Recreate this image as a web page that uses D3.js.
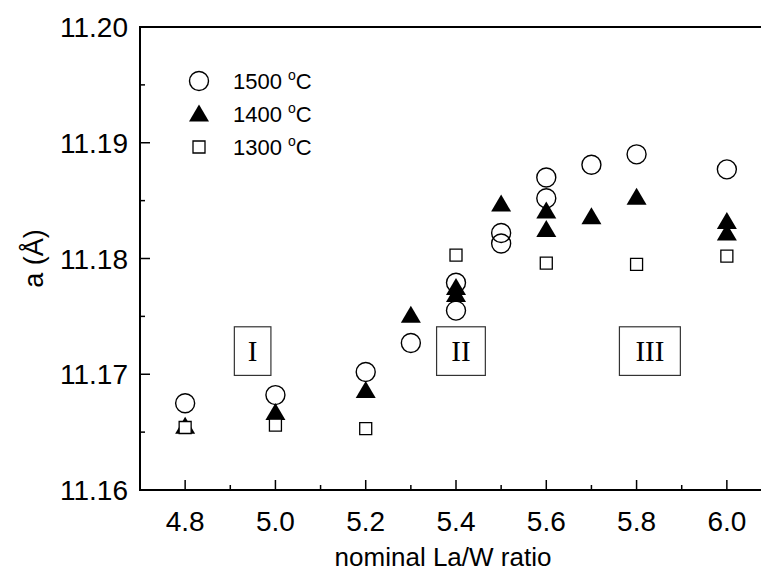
<!DOCTYPE html>
<html>
<head>
<meta charset="utf-8">
<script src="https://cdn.jsdelivr.net/npm/d3@7"></script>
<style>
  body { margin: 0; background: #fff; }
  svg { display: block; font-family: "Liberation Sans", Arial, sans-serif; }
</style>
</head>
<body>
<div id="chart"></div>
<script>
const ratio1500 = [4.8, 5.0, 5.2, 5.3, 5.4, 5.4, 5.5, 5.5, 5.6, 5.6, 5.7, 5.8, 6.0];
const a1500 = [11.1675, 11.1682, 11.1702, 11.1727, 11.1779, 11.1755, 11.1822, 11.1813, 11.1870, 11.1852, 11.1881, 11.1890, 11.1877];

const ratio1400 = [4.8, 5.0, 5.2, 5.3, 5.4, 5.4, 5.5, 5.6, 5.6, 5.7, 5.8, 6.0, 6.0];
const a1400 = [11.1655, 11.1667, 11.1686, 11.1751, 11.1775, 11.1769, 11.1847, 11.1841, 11.1825, 11.1836, 11.1853, 11.1832, 11.1822];

const ratio1300 = [4.8, 5.0, 5.2, 5.4, 5.6, 5.8, 6.0];
const a1300 = [11.1654, 11.1656, 11.1653, 11.1803, 11.1796, 11.1795, 11.1802];

const seriesNames = ["1500", "1400", "1300"];
const xTicks = [4.8, 5.0, 5.2, 5.4, 5.6, 5.8, 6.0];
const yTicks = [11.16, 11.17, 11.18, 11.19, 11.20];
const regionLabels = ["I", "II", "III"];
const regionX = [[4.909, 4.990], [5.357, 5.465], [5.762, 5.897]];
const regionY = [11.1699, 11.1741];

const width = 761, height = 575;
const margin = { top: 27, left: 140, bottom: 85 };

const svg = d3.select("#chart").append("svg")
    .attr("width", width)
    .attr("height", height);

const x = d3.scaleLinear().domain([4.7, 6.1]).range([margin.left, 772]);
const y = d3.scaleLinear().domain([11.16, 11.20]).range([height - margin.bottom, margin.top]);

const plotTop = y(11.20), plotBottom = y(11.16);

// frame (right side falls outside the picture)
svg.append("path")
    .attr("d", `M${x(6.1)},${plotTop}H${x(4.7)}V${plotBottom}H${x(6.1)}`)
    .attr("fill", "none")
    .attr("stroke", "#000")
    .attr("stroke-width", 2);

// bottom ticks (inward)
const xMinor = d3.range(4.9, 6.05, 0.2);
svg.append("g").selectAll("line")
    .data(xTicks)
    .enter().append("line")
    .attr("x1", d => x(d)).attr("x2", d => x(d))
    .attr("y1", plotBottom).attr("y2", plotBottom - 10)
    .attr("stroke", "#000").attr("stroke-width", 1.5);
svg.append("g").selectAll("line")
    .data(xMinor)
    .enter().append("line")
    .attr("x1", d => x(d)).attr("x2", d => x(d))
    .attr("y1", plotBottom).attr("y2", plotBottom - 5)
    .attr("stroke", "#000").attr("stroke-width", 1.5);

// left ticks (inward)
const yMinor = [11.165, 11.175, 11.185, 11.195];
svg.append("g").selectAll("line")
    .data(yTicks)
    .enter().append("line")
    .attr("x1", x(4.7)).attr("x2", x(4.7) + 10)
    .attr("y1", d => y(d)).attr("y2", d => y(d))
    .attr("stroke", "#000").attr("stroke-width", 1.5);
svg.append("g").selectAll("line")
    .data(yMinor)
    .enter().append("line")
    .attr("x1", x(4.7)).attr("x2", x(4.7) + 5)
    .attr("y1", d => y(d)).attr("y2", d => y(d))
    .attr("stroke", "#000").attr("stroke-width", 1.5);

// tick labels
svg.append("g").selectAll("text")
    .data(xTicks)
    .enter().append("text")
    .attr("x", d => x(d))
    .attr("y", plotBottom + 41)
    .attr("text-anchor", "middle")
    .style("font-size", "28px")
    .text(d => d.toFixed(1));

svg.append("g").selectAll("text")
    .data(yTicks)
    .enter().append("text")
    .attr("x", x(4.7) - 12)
    .attr("y", d => y(d))
    .attr("dy", "0.36em")
    .attr("text-anchor", "end")
    .style("font-size", "28px")
    .text(d => d.toFixed(2));

// axis titles
svg.append("text")
    .attr("x", 443)
    .attr("y", 566)
    .attr("text-anchor", "middle")
    .style("font-size", "26px")
    .text("nominal La/W ratio");

svg.append("text")
    .attr("transform", `translate(43,${(plotTop + plotBottom) / 2}) rotate(-90)`)
    .attr("text-anchor", "middle")
    .style("font-size", "27px")
    .text("a (Å)");

// region boxes
regionLabels.forEach((label, i) => {
    const [x0, x1] = regionX[i];
    svg.append("rect")
        .attr("x", x(x0))
        .attr("y", y(regionY[1]))
        .attr("width", x(x1) - x(x0))
        .attr("height", y(regionY[0]) - y(regionY[1]))
        .attr("fill", "#fff")
        .attr("stroke", "#333")
        .attr("stroke-width", 1.2);
    svg.append("text")
        .attr("x", (x(x0) + x(x1)) / 2)
        .attr("y", (y(regionY[0]) + y(regionY[1])) / 2)
        .attr("dy", "0.35em")
        .attr("text-anchor", "middle")
        .style("font-family", "'Liberation Serif', 'Times New Roman', serif")
        .style("font-size", "29px")
        .text(label);
});

// markers
const circle = d3.symbol().type(d3.symbolCircle).size(Math.PI * 9.5 * 9.5);
const triangle = "M0,-9.5L10,7.5L-10,7.5Z";
const square = "M-6,-6H6V6H-6Z";

function drawSquares(g, xs, ys) {
    g.selectAll("path.sq")
        .data(xs.map((v, i) => [v, ys[i]]))
        .enter().append("path")
        .attr("class", "sq")
        .attr("d", square)
        .attr("transform", d => `translate(${x(d[0])},${y(d[1])})`)
        .attr("fill", "#fff")
        .attr("stroke", "#000")
        .attr("stroke-width", 1.3);
}
function drawTriangles(g, xs, ys) {
    g.selectAll("path.tri")
        .data(xs.map((v, i) => [v, ys[i]]))
        .enter().append("path")
        .attr("class", "tri")
        .attr("d", triangle)
        .attr("transform", d => `translate(${x(d[0])},${y(d[1])})`)
        .attr("fill", "#000");
}
function drawCircles(g, xs, ys) {
    g.selectAll("path.ci")
        .data(xs.map((v, i) => [v, ys[i]]))
        .enter().append("path")
        .attr("class", "ci")
        .attr("d", circle)
        .attr("transform", d => `translate(${x(d[0])},${y(d[1])})`)
        .attr("fill", "none")
        .attr("stroke", "#000")
        .attr("stroke-width", 1.4);
}

const marks = svg.append("g");
drawTriangles(marks, ratio1400, a1400);
drawSquares(marks, ratio1300, a1300);
drawCircles(marks, ratio1500, a1500);

// legend
const legendY = [81, 114, 147];
const legend = svg.append("g");
legendY.forEach((ly, i) => {
    const g = legend.append("g").attr("transform", `translate(199,${ly})`);
    if (i === 0) g.append("path").attr("d", circle).attr("fill", "none").attr("stroke", "#000").attr("stroke-width", 1.4);
    if (i === 1) g.append("path").attr("d", triangle).attr("fill", "#000");
    if (i === 2) g.append("path").attr("d", square).attr("fill", "#fff").attr("stroke", "#000").attr("stroke-width", 1.3);
    const t = g.append("text")
        .attr("x", 34)
        .attr("y", 8)
        .style("font-size", "22px");
    t.append("tspan").text(seriesNames[i] + " ");
    t.append("tspan").attr("dy", -9).style("font-size", "14px").text("o");
    t.append("tspan").attr("dy", 9).text("C");
});
</script>
</body>
</html>
